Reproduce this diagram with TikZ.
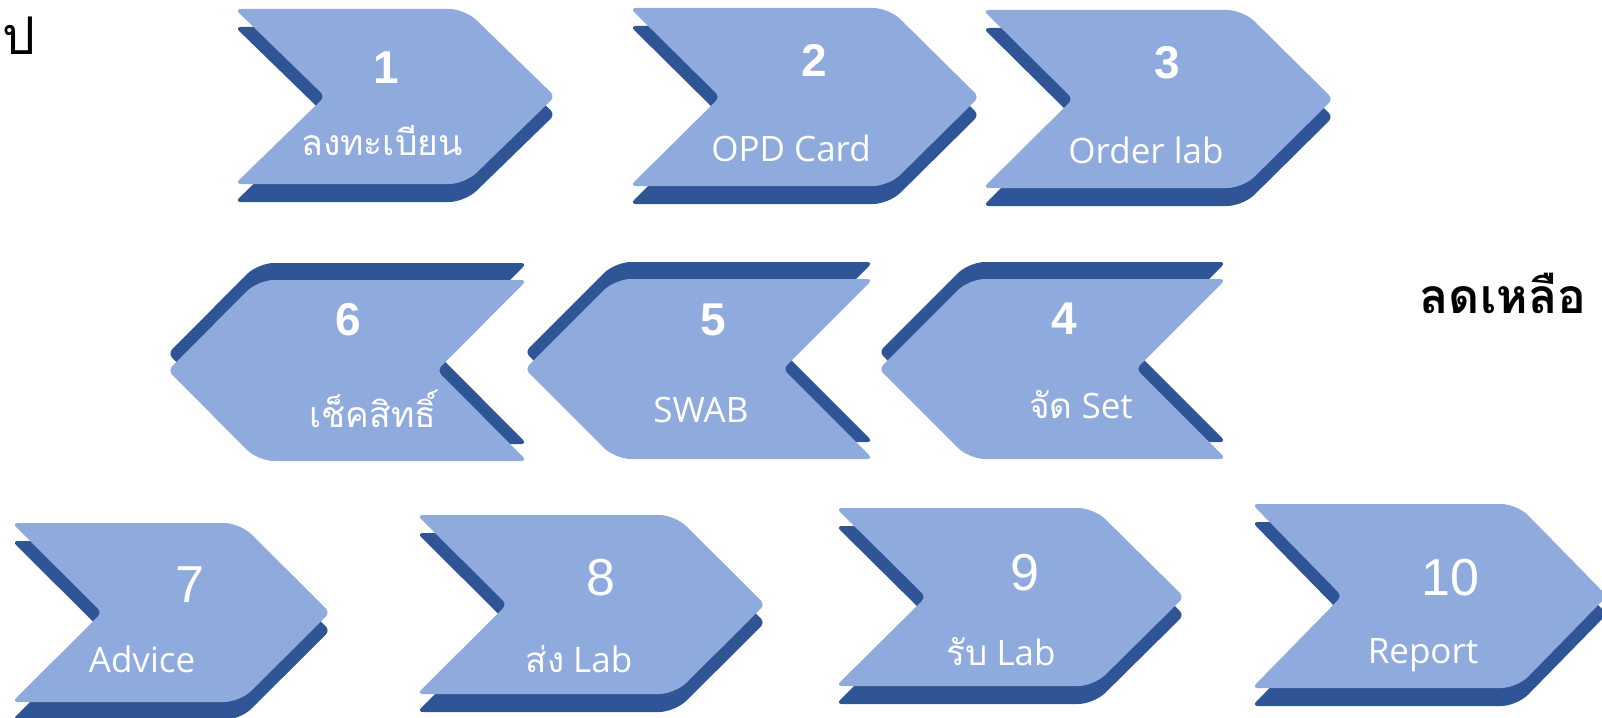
\documentclass[tikz,border=0pt]{standalone}
\usepackage{fontspec}
\setmainfont{Open Sans}
\newfontfamily\thaifont[Script=Thai]{Loma}
\newfontfamily\numfont{Liberation Sans}
\definecolor{lblue}{RGB}{143,170,220}
\definecolor{dblue}{RGB}{47,85,151}

\begin{document}
\begin{tikzpicture}[x=1pt,y=-1pt]
      \tikzstyle{face}=[fill=lblue]
      \tikzstyle{side}=[fill=dblue]
      \tikzstyle{num}=[text=white,anchor=base,font=\numfont\bfseries\fontsize{46}{46}\selectfont]
      \tikzstyle{numlow}=[text=white,anchor=base,font=\numfont\fontsize{52}{52}\selectfont]
      \tikzstyle{lab}=[text=white,anchor=base,font=\fontsize{35}{35}\selectfont]
      \tikzstyle{tlab}=[text=white,anchor=base,font=\thaifont\fontsize{35.5}{36}\selectfont]

      \useasboundingbox (0,0) rectangle (1602,717);

      % chevrons pointing right (rows 1 and 3)
      \foreach \x/\y/\w/\h in {235/9/320/175, 630/8/349/178, 983/10/350/178,
                               12/523/318/179, 417/515/348/179, 836/508/348/178, 1252/504/355/184}{
        \foreach \c/\d in {dblue/18, lblue/0}
          \fill[fill=\c] (\x,\y+\d) [rounded corners=16pt] -- ++(\w-90,0) [rounded corners=6pt] -- ++(90,\h/2)
            [rounded corners=16pt] -- ++(-90,\h/2) [rounded corners=6pt] -- ++(-\w+90,0) -- ++(90,-\h/2) -- cycle;
      }
      % chevrons pointing left (row 2)
      \foreach \x/\y/\w/\h in {168/280/359/181, 525/279/348/180, 879/279/347/180}{
        \foreach \c/\d in {dblue/-17, lblue/0}
          \fill[fill=\c] (\x+90,\y+\d) [rounded corners=6pt] -- ++(\w-90,0) -- ++(-90,\h/2) -- ++(90,\h/2)
            [rounded corners=16pt] -- ++(-\w+90,0) [rounded corners=6pt] -- ++(-90,-\h/2) [rounded corners=16pt] -- cycle;
      }

      \node[num]    (n1)  at (386,83)   {1};
      \node[num]    (n2)  at (814,76)   {2};
      \node[num]    (n3)  at (1167,78)  {3};
      \node[num]    (n4)  at (1064,334) {4};
      \node[num]    (n5)  at (713,335)  {5};
      \node[num]    (n6)  at (348,335)  {6};
      \node[numlow] (n7)  at (190,602)  {7};
      \node[numlow] (n8)  at (601,595)  {8};
      \node[numlow] (n9)  at (1025,590) {9};
      \node[numlow] (n10) at (1450,595) {10};

      \node[tlab] (l1)  at (382,155)  {ลงทะเบียน};
      \node[lab]  (l2)  at (791,161)  {OPD Card};
      \node[lab]  (l3)  at (1146,163) {Order lab};
      \node[lab]  (l4)  at (1081,418) {{\thaifont จัด} Set};
      \node[lab]  (l5)  at (701,422)  {SWAB};
      \node[tlab] (l6)  at (373,427)  {เช็คสิทธิ์};
      \node[lab]  (l7)  at (142,672)  {Advice};
      \node[lab]  (l8)  at (579,672)  {{\thaifont ส่ง} Lab};
      \node[lab]  (l9)  at (1001,665) {{\thaifont รับ} Lab};
      \node[lab]  (l10) at (1423,663) {Report};

      \node[anchor=base,font=\thaifont\bfseries\fontsize{48}{48}\selectfont] (cut) at (1503,313) {ลดเหลือ};
      \node[anchor=base east,inner sep=0pt,font=\thaifont\fontsize{52}{52}\selectfont] (go) at (36,55) {ไป};
\end{tikzpicture}
\end{document}
